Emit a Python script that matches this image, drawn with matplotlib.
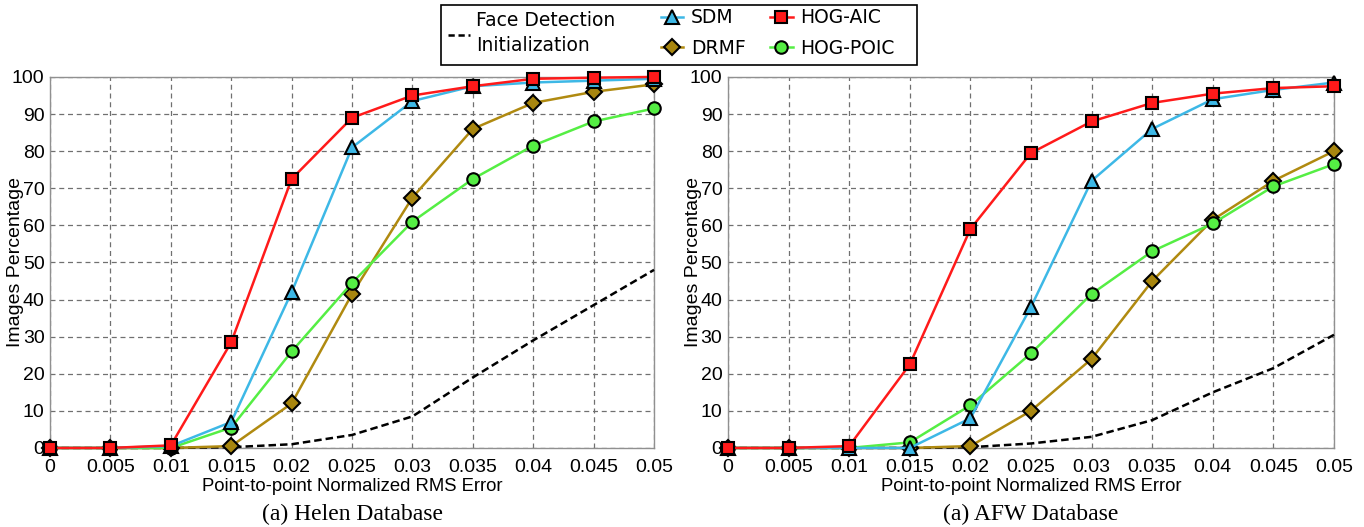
import matplotlib
matplotlib.use("Agg")
import matplotlib.pyplot as plt
from matplotlib.lines import Line2D
from matplotlib.patches import Rectangle

# x positions (normalized RMS error)
err = [0, 0.005, 0.01, 0.015, 0.02, 0.025, 0.03, 0.035, 0.04, 0.045, 0.05]
err_labels = ["0", "0.005", "0.01", "0.015", "0.02", "0.025", "0.03", "0.035", "0.04", "0.045", "0.05"]

# Helen database
helen_face = [0, 0, 0, 0.2, 1, 3.5, 8.5, 19, 29, 38.5, 48]
helen_sdm = [0, 0, 0.5, 7, 42, 81, 93.5, 97.5, 98.5, 99, 99.5]
helen_aic = [0, 0, 0.7, 28.5, 72.5, 89, 95, 97.5, 99.5, 99.8, 100]
helen_drmf = [0, 0, 0, 0.5, 12, 41.5, 67.5, 86, 93, 96, 98]
helen_poic = [0, 0, 0, 5.5, 26, 44.5, 61, 72.5, 81.5, 88, 91.5]

# AFW database
afw_face = [0, 0, 0, 0, 0.2, 1.2, 3, 7.5, 15, 21.5, 30.5]
afw_sdm = [0, 0, 0, 0, 8, 38, 72, 86, 94, 96.5, 98.5]
afw_aic = [0, 0, 0.5, 22.5, 59, 79.5, 88, 93, 95.5, 97, 97.5]
afw_drmf = [0, 0, 0, 0, 0.5, 10, 24, 45, 61.5, 72, 80]
afw_poic = [0, 0, 0, 1.5, 11.5, 25.5, 41.5, 53, 60.5, 70.5, 76.5]

captions = ["(a) Helen Database", "(a) AFW Database"]

c_sdm = "#3db8e6"
c_aic = "#ff1a1a"
c_drmf_line = "#b08a10"
c_drmf_fill = "#a8860f"
c_poic = "#55ee44"

plt.rcParams['font.family'] = ['DejaVu Sans']

fig = plt.figure(figsize=(13.64, 5.27), dpi=100)
ax1 = fig.add_axes([0.0367, 0.15, 0.4428, 0.704])
ax2 = fig.add_axes([0.5337, 0.15, 0.4443, 0.704])

data = [
    (helen_face, helen_sdm, helen_aic, helen_drmf, helen_poic),
    (afw_face, afw_sdm, afw_aic, afw_drmf, afw_poic),
]

for ax, (face, sdm, aic, drmf, poic), cap in zip([ax1, ax2], data, captions):
    ax.plot(err, face, color="black", linestyle=(0, (3, 1.6)), linewidth=1.8, zorder=3)
    ax.plot(err, drmf, color=c_drmf_line, linewidth=1.8, marker="D", markersize=8,
            markerfacecolor=c_drmf_fill, markeredgecolor="black", markeredgewidth=1.5, zorder=4)
    ax.plot(err, poic, color=c_poic, linewidth=1.8, marker="o", markersize=9,
            markerfacecolor=c_poic, markeredgecolor="black", markeredgewidth=1.5, zorder=4)
    ax.plot(err, sdm, color=c_sdm, linewidth=1.8, marker="^", markersize=10,
            markerfacecolor=c_sdm, markeredgecolor="black", markeredgewidth=1.5, zorder=5)
    ax.plot(err, aic, color=c_aic, linewidth=1.8, marker="s", markersize=8,
            markerfacecolor=c_aic, markeredgecolor="black", markeredgewidth=1.5, zorder=6)

    ax.set_xlim(0, 0.05)
    ax.set_ylim(0, 100)
    ax.set_xticks(err)
    ax.set_xticklabels(err_labels)
    ax.set_yticks(range(0, 101, 10))
    for lab in ax.get_xticklabels() + ax.get_yticklabels():
        lab.set_family("Liberation Sans")
        lab.set_fontsize(14)
    ax.tick_params(axis="x", length=0, pad=8)
    ax.tick_params(axis="y", length=0, pad=4)
    ax.grid(True, color="#707070", linestyle=(0, (4, 3)), linewidth=0.9)
    for s in ax.spines.values():
        s.set_color("#909090")
        s.set_linewidth(1.0)
    for m in ax.get_lines():
        m.set_clip_on(False)
    ax.set_ylabel("Images Percentage", fontsize=14, family="Liberation Sans")
    ax.yaxis.set_label_coords(-0.043, 0.5)
    ax.set_xlabel("Point-to-point Normalized RMS Error", fontsize=13.3, family="Liberation Sans")
    ax.xaxis.set_label_coords(0.5, -0.08)
    ax.text(0.5, -0.178, cap, transform=ax.transAxes, ha="center", va="center",
            fontsize=17, family="Liberation Serif")

# legend box
fig.patches.append(Rectangle((441 / 1364, 1 - 65 / 527), 476 / 1364, 60 / 527,
                             transform=fig.transFigure, facecolor="white",
                             edgecolor="black", linewidth=1.2, zorder=1))
fig.lines.append(Line2D([448 / 1364, 470 / 1364], [1 - 35 / 527, 1 - 35 / 527],
                        transform=fig.transFigure, color="black",
                        linestyle=(0, (2.5, 1.5)), linewidth=1.8))
fig.text(476 / 1364, 1 - 33 / 527, "Face Detection\nInitialization", ha="left", va="center",
         fontsize=13.5, linespacing=1.4)

handles = [
    Line2D([], [], color=c_sdm, linewidth=1.8, marker="^", markersize=10,
           markerfacecolor=c_sdm, markeredgecolor="black", markeredgewidth=1.5),
    Line2D([], [], color=c_drmf_line, linewidth=1.8, marker="D", markersize=8,
           markerfacecolor=c_drmf_fill, markeredgecolor="black", markeredgewidth=1.5),
    Line2D([], [], color=c_aic, linewidth=1.8, marker="s", markersize=8,
           markerfacecolor=c_aic, markeredgecolor="black", markeredgewidth=1.5),
    Line2D([], [], color=c_poic, linewidth=1.8, marker="o", markersize=9,
           markerfacecolor=c_poic, markeredgecolor="black", markeredgewidth=1.5),
]
labels = ["SDM", "DRMF", "HOG-AIC", "HOG-POIC"]
fig.legend(handles, labels, ncol=2, loc="center left",
           bbox_to_anchor=(644 / 1364, 1 - 33 / 527), frameon=False, fontsize=13.5,
           handlelength=1.2, handletextpad=0.4, columnspacing=1.3, labelspacing=0.6)

fig.savefig("out.png", dpi=100)
